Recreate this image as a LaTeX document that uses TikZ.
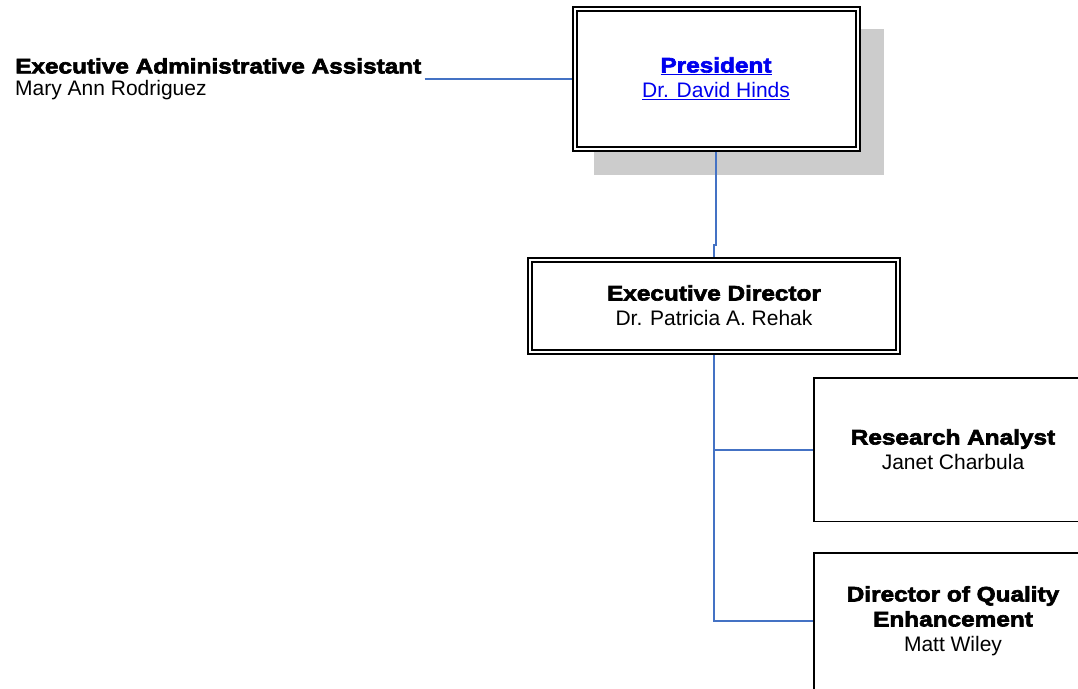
\documentclass[tikz,border=0pt]{standalone}
\usepackage{fontspec}
\setmainfont{Liberation Sans}
\newfontfamily\blackfont[FakeStretch=1.16,BoldFeatures={FakeBold=3}]{Liberation Sans}
\usetikzlibrary{calc,backgrounds}
\definecolor{linkblue}{RGB}{0,0,238}
\definecolor{linkline}{RGB}{68,114,196}
\definecolor{shadowgray}{RGB}{204,204,204}
\newcommand{\post}[1]{{\blackfont\bfseries #1}}

\begin{document}
\begin{tikzpicture}[x=1pt,y=-1pt,
  font=\fontsize{21}{25}\selectfont,
  dblbox/.style={draw,line width=2pt,double=white,double distance=2pt,
    fill=white,outer sep=0pt,inner sep=0pt,align=center},
  onebox/.style={draw,line width=1.5pt,fill=white,outer sep=0pt,
    inner sep=0pt,align=center},
  link/.style={draw=linkline,line width=2pt}]
\clip (0,0) rectangle (1078,688);

\node[dblbox,text=linkblue,minimum width=283pt,minimum height=140pt] (pres) at (716,78.5)
  {\underline{\post{President}}\\\underline{Dr. David Hinds}};
\node[dblbox,minimum width=368pt,minimum height=92pt] (exec) at (714,305.5)
  {\post{Executive Director}\\Dr. Patricia A. Rehak};
\node[onebox,minimum width=278.5pt,minimum height=143.5pt] (ra) at (953,449.5)
  {\post{Research Analyst}\\Janet Charbula};
\node[onebox,minimum width=278.5pt,minimum height=136.5pt] (dqe) at (953,621)
  {\post{Director of Quality}\\\post{Enhancement}\\Matt Wiley};
\node[anchor=north west,inner sep=0pt,align=left,font=\fontsize{21}{22}\selectfont] (eaa) at (15,58)
  {\post{Executive Administrative Assistant}\\Mary Ann Rodriguez};

\begin{scope}[on background layer]
\fill[shadowgray] ($(pres.south west)+(19.5,26.5)$) rectangle ($(pres.north east)+(26.5,20.5)$);
\draw[link] ($(eaa.east |- pres.west)+(3,0)$) -- (pres.west);
\draw[link] (pres.south) -- ++(0,96) -| (exec.north);
\draw[link] (exec.south) |- (ra.west);
\draw[link] (exec.south) |- (dqe.west);
\end{scope}
\end{tikzpicture}
\end{document}
